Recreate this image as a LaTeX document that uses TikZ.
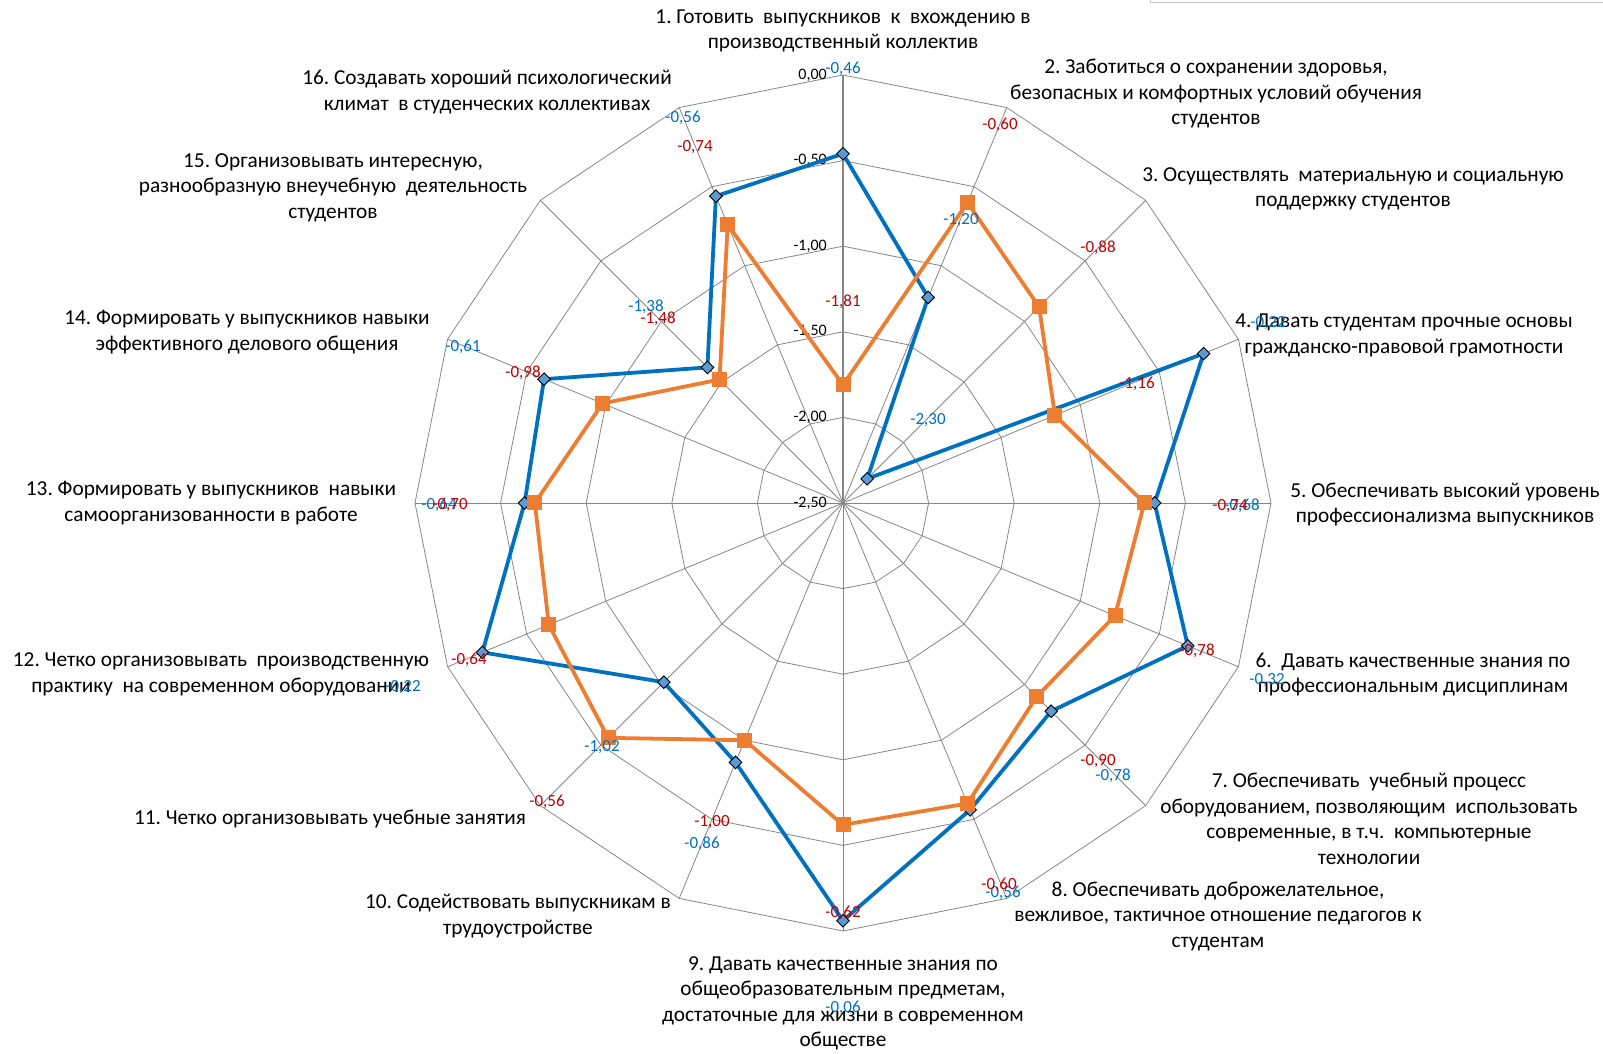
\documentclass[tikz,border=0pt]{standalone}
\usepackage{fontspec}
\setmainfont{Carlito}
\usetikzlibrary{shapes.geometric}
\frenchspacing

\definecolor{gridgray}{RGB}{134,134,134}
\definecolor{serblue}{RGB}{0,112,192}
\definecolor{mkblue}{RGB}{91,155,213}
\definecolor{serorange}{RGB}{237,125,49}
\definecolor{lblred}{RGB}{192,0,0}
\definecolor{lblblue}{RGB}{0,112,192}
\definecolor{legendgray}{RGB}{200,200,200}

\tikzset{
	spoke/.style={gridgray, line width=0.8pt},
	ring/.style={gridgray, line width=0.8pt},
	scalelabel/.style={anchor=east, inner sep=0pt, font=\fontsize{16}{19}\selectfont},
	catlabel/.style={align=center, inner sep=0pt, font=\fontsize{21.3}{25.5}\selectfont},
	bluelabel/.style={text=lblblue, inner sep=0pt, font=\fontsize{17}{20}\selectfont},
	redlabel/.style={text=lblred, inner sep=0pt, font=\fontsize{17}{20}\selectfont},
	blueline/.style={serblue, line width=3.8pt, line join=round},
	orangeline/.style={serorange, line width=3.8pt, line join=round},
	bluemark/.style={diamond, draw=black, line width=0.9pt, fill=mkblue, minimum size=13pt, inner sep=0pt},
	orangemark/.style={rectangle, fill=serorange, minimum size=15pt, inner sep=0pt}
}

\begin{document}
\begin{tikzpicture}[x=1pt, y=1pt]
	\useasboundingbox (-843,-551) rectangle (760,503);

	% grid
	\foreach \k in {0,...,15}{
	   \draw[spoke] (0,0) -- ({90-22.5*\k}:428);
	}
	\foreach \r in {1,...,5}{
	   \draw[ring] (90:{85.6*\r}) \foreach \k in {1,...,15}{ -- ({90-22.5*\k}:{85.6*\r})} -- cycle;
	}
	\draw[gridgray, line width=1.6pt] (0,0) -- (90:428);
	\draw[legendgray, line width=1pt] (307,503) -- (307,500) -- (760,500);

	\foreach \t [count=\k from 0] in {{0,00},{-0,50},{-1,00},{-1,50},{-2,00},{-2,50}}{
	   \node[scalelabel] (s\k) at (-16,{428-85.6*\k}) {\t};
	}

	% series
	\foreach \v [count=\k from 1] in {-0.46,-1.20,-2.30,-0.22,-0.68,-0.32,-0.78,-0.56,-0.06,-0.86,-1.02,-0.22,-0.64,-0.61,-1.38,-0.56}{
	   \coordinate (b\k) at ({112.5-22.5*\k}:{171.2*(\v+2.5)});
	}
	\foreach \v [count=\k from 1] in {-1.81,-0.60,-0.88,-1.16,-0.74,-0.78,-0.90,-0.60,-0.62,-1.00,-0.56,-0.64,-0.70,-0.98,-1.48,-0.74}{
	   \coordinate (o\k) at ({112.5-22.5*\k}:{171.2*(\v+2.5)});
	}

	\draw[blueline] (b1) \foreach \k in {2,...,16}{ -- (b\k)} -- cycle;
	\foreach \k in {1,...,16}{
	   \node[bluemark] (mb\k) at (b\k) {};
	}
	\draw[orangeline] (o1) \foreach \k in {2,...,16}{ -- (o\k)} -- cycle;
	\foreach \k in {1,...,16}{
	   \node[orangemark] (mo\k) at (o\k) {};
	}

	% category labels
	\node[catlabel] (c1) at (0,472) {1. Готовить~ выпускников~ к~ вхождению в\\производственный коллектив};
	\node[catlabel] (c2) at (373,409) {2. Заботиться о сохранении здоровья,\\безопасных и комфортных условий обучения\\студентов};
	\node[catlabel] (c3) at (510,314) {3. Осуществлять~ материальную и социальную\\поддержку студентов};
	\node[catlabel] (c4) at (561,167.5) {4. Давать студентам прочные основы\\гражданско-правовой грамотности};
	\node[catlabel] (c5) at (602,-1.5) {5. Обеспечивать высокий уровень\\профессионализма выпускников};
	\node[catlabel] (c6) at (570,-171.5) {6.~ Давать качественные знания по\\профессиональным дисциплинам};
	\node[catlabel] (c7) at (526,-316) {7. Обеспечивать~ учебный процесс\\оборудованием, позволяющим~ использовать\\современные, в т.ч.~ компьютерные\\технологии};
	\node[catlabel] (c8) at (375,-413) {8. Обеспечивать доброжелательное,\\вежливое, тактичное отношение педагогов к\\студентам};
	\node[catlabel] (c9) at (0,-500.5) {9. Давать качественные знания по\\общеобразовательным предметам,\\достаточные для жизни в современном\\обществе};
	\node[catlabel] (c10) at (-325,-413) {10. Содействовать выпускникам в\\трудоустройстве};
	\node[catlabel] (c11) at (-513,-316) {11. Четко организовывать учебные занятия};
	\node[catlabel] (c12) at (-622,-171.5) {12. Четко организовывать~ производственную\\практику~ на современном оборудовании};
	\node[catlabel] (c13) at (-632,0) {13. Формировать у выпускников~ навыки\\самоорганизованности в работе};
	\node[catlabel] (c14) at (-596,171) {14. Формировать у выпускников навыки\\эффективного делового общения};
	\node[catlabel] (c15) at (-510,315.5) {15. Организовывать интересную,\\разнообразную внеучебную~ деятельность\\студентов};
	\node[catlabel] (c16) at (-356,411) {16. Создавать хороший психологический\\климат~ в студенческих коллективах};

	% data labels
	\foreach \t/\x/\y [count=\k] in {{-0,46}/0/434, {-1,20}/118/283, {-2,30}/85/83, {-0,22}/425/180,
	   {-0,68}/399/-3, {-0,32}/424/-177, {-0,78}/270/-273, {-0,56}/160/-390,
	   {-0,06}/0/-505, {-0,86}/-141/-341, {-1,02}/-241/-244, {-0,22}/-440/-184,
	   {-0,64}/-404/-2, {-0,61}/-380/156, {-1,38}/-197/196, {-0,56}/-160/385}{
	   \node[bluelabel] (lb\k) at (\x,\y) {\t};
	}
	\foreach \t/\x/\y [count=\k] in {{-1,81}/0/201, {-0,60}/157/378, {-0,88}/255/255, {-1,16}/294/119,
	   {-0,74}/387/-3, {-0,78}/354/-148, {-0,90}/255/-258, {-0,60}/156/-382,
	   {-0,62}/0/-410, {-1,00}/-131/-319, {-0,56}/-296/-299, {-0,64}/-374/-157,
	   {-0,70}/-393/-2, {-0,98}/-320/130, {-1,48}/-185/184, {-0,74}/-148/356}{
	   \node[redlabel] (lr\k) at (\x,\y) {\t};
	}
\end{tikzpicture}
\end{document}
